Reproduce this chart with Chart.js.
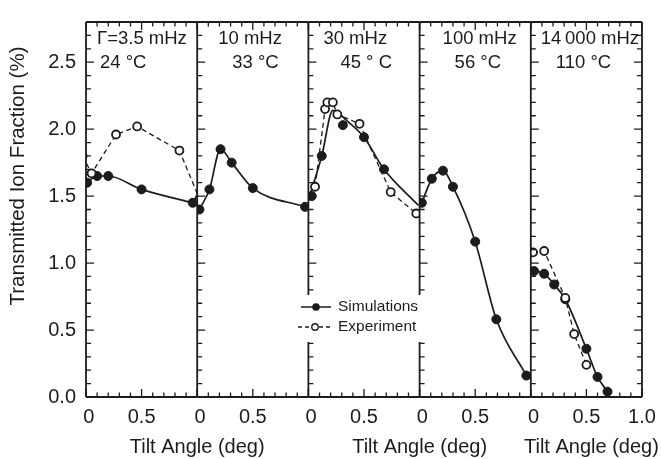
<!DOCTYPE html>
<html lang="en">
<head>
  <meta charset="utf-8">
  <title>Transmitted ion fraction vs tilt angle</title>
  <style>
    html, body { margin: 0; padding: 0; background: #fff; }
  </style>
</head>
<body>
  <canvas id="chart" width="661" height="459"></canvas>

  <script src="https://cdn.jsdelivr.net/npm/chart.js"></script>
  <script>
    // panel captions
    const rateLabels = ['Γ=3.5 mHz', '10 mHz', '30 mHz', '100 mHz', '14\u2009000 mHz'];
    const tempLabels = ['24 °C', '33 °C', '45 ° C', '56 °C', '110 °C'];

    // simulations (filled) / experiment (open); x = tilt angle (deg), y = fraction (%)
    const sim1X = [0.01, 0.1, 0.2, 0.5, 0.96];
    const sim1Y = [1.6, 1.65, 1.65, 1.55, 1.45];
    const exp1X = [-0.03, 0.05, 0.27, 0.46, 0.84, 1.02];
    const exp1Y = [1.8, 1.67, 1.96, 2.02, 1.84, 1.48];

    const sim2X = [0.02, 0.11, 0.21, 0.31, 0.5, 0.97];
    const sim2Y = [1.4, 1.55, 1.85, 1.75, 1.56, 1.42];

    const sim3X = [0.03, 0.12, 0.31, 0.5, 0.68];
    const sim3Y = [1.5, 1.8, 2.03, 1.94, 1.7];
    const fit3X = [0.0, 0.12, 0.22, 0.35, 0.5, 0.68, 0.99];
    const fit3Y = [1.47, 1.8, 2.14, 2.06, 1.94, 1.7, 1.43];
    const exp3X = [0.06, 0.15, 0.17, 0.22, 0.26, 0.46, 0.74, 0.97];
    const exp3Y = [1.57, 2.15, 2.2, 2.2, 2.11, 2.04, 1.53, 1.37];

    const sim4X = [0.02, 0.11, 0.21, 0.3, 0.5, 0.69, 0.96];
    const sim4Y = [1.45, 1.63, 1.69, 1.57, 1.16, 0.58, 0.16];

    const sim5X = [0.03, 0.12, 0.21, 0.31, 0.5, 0.6, 0.69];
    const sim5Y = [0.94, 0.92, 0.84, 0.73, 0.36, 0.15, 0.04];
    const exp5X = [0.02, 0.12, 0.31, 0.39, 0.5];
    const exp5Y = [1.08, 1.09, 0.74, 0.47, 0.24];

    const yTickValues = [0, 0.5, 1.0, 1.5, 2.0, 2.5];

    const ink = '#1c1c1c';
    const font = '"Liberation Sans", Arial, sans-serif';
    const panelIds = ['x1', 'x2', 'x3', 'x4', 'x5'];

    const pts = (xs, ys) => xs.map((x, i) => ({ x: x, y: ys[i] }));

    const simSets = [[sim1X, sim1Y], [sim2X, sim2Y], [sim3X, sim3Y], [sim4X, sim4Y], [sim5X, sim5Y]];
    const fitSets = [[sim1X, sim1Y], [sim2X, sim2Y], [fit3X, fit3Y], [sim4X, sim4Y], [sim5X, sim5Y]];
    const expSets = [[exp1X, exp1Y], null, [exp3X, exp3Y], null, [exp5X, exp5Y]];

    const datasets = [];
    // open circles on top
    expSets.forEach((e, i) => {
      if (!e) return;
      datasets.push({
        label: 'Experiment', xAxisID: panelIds[i], yAxisID: 'y',
        data: pts(e[0], e[1]), showLine: true, clip: 0,
        borderColor: ink, borderWidth: 1.3, borderDash: [5, 3.5], tension: 0,
        pointRadius: 4, pointBorderWidth: 1.8, pointBackgroundColor: '#fff', pointBorderColor: ink
      });
    });
    simSets.forEach((s, i) => {
      datasets.push({
        label: 'Simulations', xAxisID: panelIds[i], yAxisID: 'y',
        data: pts(s[0], s[1]), showLine: false, clip: 0,
        pointRadius: 4.5, pointBorderWidth: 1, pointBackgroundColor: ink, pointBorderColor: ink
      });
    });
    fitSets.forEach((s, i) => {
      datasets.push({
        label: 'fit', xAxisID: panelIds[i], yAxisID: 'y',
        data: pts(s[0], s[1]), showLine: true, clip: 0,
        borderColor: ink, borderWidth: 1.7, cubicInterpolationMode: 'monotone',
        pointRadius: 0
      });
    });

    const scales = {
      y: {
        type: 'linear', position: 'left', min: 0, max: 2.8,
        afterFit: s => { s.width = 86; },
        afterBuildTicks: s => { s.ticks = yTickValues.map(v => ({ value: v })); },
        grid: { display: false, drawTicks: false }, border: { display: false },
        ticks: { color: ink, padding: 10, font: { family: font, size: 20 }, callback: v => v.toFixed(1) }
      }
    };
    panelIds.forEach((id, i) => {
      scales[id] = {
        type: 'linear', position: 'bottom', stack: 'panels', stackWeight: 1,
        min: 0, max: 1,
        afterFit: s => { s.height = 62; s.paddingLeft = 0; s.paddingRight = 0; },
        grid: { display: false, drawTicks: false }, border: { display: false },
        ticks: {
          stepSize: 0.5, autoSkip: false, maxRotation: 0, color: ink, padding: 8,
          font: { family: font, size: 20 },
          callback: v => {
            if (Math.abs(v) < 1e-6) return '\u00a00';
            if (Math.abs(v - 0.5) < 1e-6) return '0.5';
            return i === panelIds.length - 1 ? '1.0' : '';
          }
        }
      };
    });

    // caption offsets from each panel's left edge
    const capDx1 = [11, 21, 15, 23, 10];
    const capDx2 = [14, 35, 32, 35, 25];

    const framePlugin = {
      id: 'frame',
      afterDatasetsDraw(chart) {
        const ctx = chart.ctx;
        const ys = chart.scales.y;
        const top = chart.chartArea.top, bottom = chart.chartArea.bottom;
        ctx.save();
        ctx.strokeStyle = ink;
        ctx.fillStyle = ink;
        panelIds.forEach((id, i) => {
          const s = chart.scales[id];
          const last = i === panelIds.length - 1;
          ctx.lineWidth = 1.8;
          ctx.beginPath();
          ctx.moveTo(s.left, top); ctx.lineTo(s.left, bottom);
          ctx.moveTo(s.left, top); ctx.lineTo(s.right, top);
          ctx.moveTo(s.left, bottom); ctx.lineTo(s.right, bottom);
          if (last) { ctx.moveTo(s.right, top); ctx.lineTo(s.right, bottom); }
          ctx.stroke();
          ctx.lineWidth = 1.3;
          ctx.beginPath();
          for (let k = 0; k <= 10; k++) {
            const px = s.getPixelForValue(k / 10);
            const len = k % 5 === 0 ? 8 : 4.5;
            ctx.moveTo(px, bottom); ctx.lineTo(px, bottom - len);
            ctx.moveTo(px, top); ctx.lineTo(px, top + len);
          }
          for (let k = 1; k <= 28; k++) {
            const py = ys.getPixelForValue(k / 10);
            const len = k % 5 === 0 ? 8 : 5;
            ctx.moveTo(s.left, py); ctx.lineTo(s.left + len, py);
            if (last) { ctx.moveTo(s.right, py); ctx.lineTo(s.right - len, py); }
          }
          ctx.stroke();

          ctx.font = '18.5px ' + font;
          ctx.textAlign = 'left';
          ctx.textBaseline = 'middle';
          ctx.fillText(rateLabels[i], s.left + capDx1[i], 39);
          ctx.fillText(tempLabels[i], s.left + capDx2[i], 63);
        });

        // axis titles
        const sc = chart.scales;
        ctx.font = '20px ' + font;
        ctx.textAlign = 'center';
        ctx.textBaseline = 'middle';
        ctx.fillText('Tilt Angle (deg)', sc.x1.right, 447);
        ctx.fillText('Tilt Angle (deg)', sc.x3.right, 447);
        ctx.fillText('Tilt Angle (deg)', (sc.x5.left + sc.x5.right) / 2 + 5, 447);
        ctx.save();
        ctx.translate(18, 176);
        ctx.rotate(-Math.PI / 2);
        ctx.font = '20.5px ' + font;
        ctx.fillText('Transmitted Ion Fraction (%)', 0, 0);
        ctx.restore();

        // legend
        ctx.fillStyle = '#fff';
        ctx.fillRect(296, 295, 135, 47);
        ctx.fillStyle = ink;
        ctx.lineWidth = 1.5;
        ctx.beginPath();
        ctx.moveTo(301, 307); ctx.lineTo(331, 307);
        ctx.stroke();
        ctx.beginPath();
        ctx.arc(316, 307, 3.8, 0, Math.PI * 2);
        ctx.fill();
        ctx.setLineDash([4, 3]);
        ctx.lineWidth = 1.3;
        ctx.beginPath();
        ctx.moveTo(298, 327); ctx.lineTo(332, 327);
        ctx.stroke();
        ctx.setLineDash([]);
        ctx.fillStyle = '#fff';
        ctx.beginPath();
        ctx.arc(315, 327, 3.2, 0, Math.PI * 2);
        ctx.fill();
        ctx.lineWidth = 1.4;
        ctx.stroke();
        ctx.fillStyle = ink;
        ctx.font = '15.5px ' + font;
        ctx.textAlign = 'left';
        ctx.fillText('Simulations', 338, 307);
        ctx.fillText('Experiment', 338, 327);
        ctx.restore();
      }
    };

    new Chart(document.getElementById('chart'), {
      type: 'scatter',
      data: { datasets: datasets },
      options: {
        responsive: false,
        animation: false,
        layout: { padding: { top: 9, right: 19, left: 0, bottom: 0 } },
        plugins: { legend: { display: false }, tooltip: { enabled: false } },
        scales: scales
      },
      plugins: [framePlugin]
    });
  </script>
</body>
</html>
